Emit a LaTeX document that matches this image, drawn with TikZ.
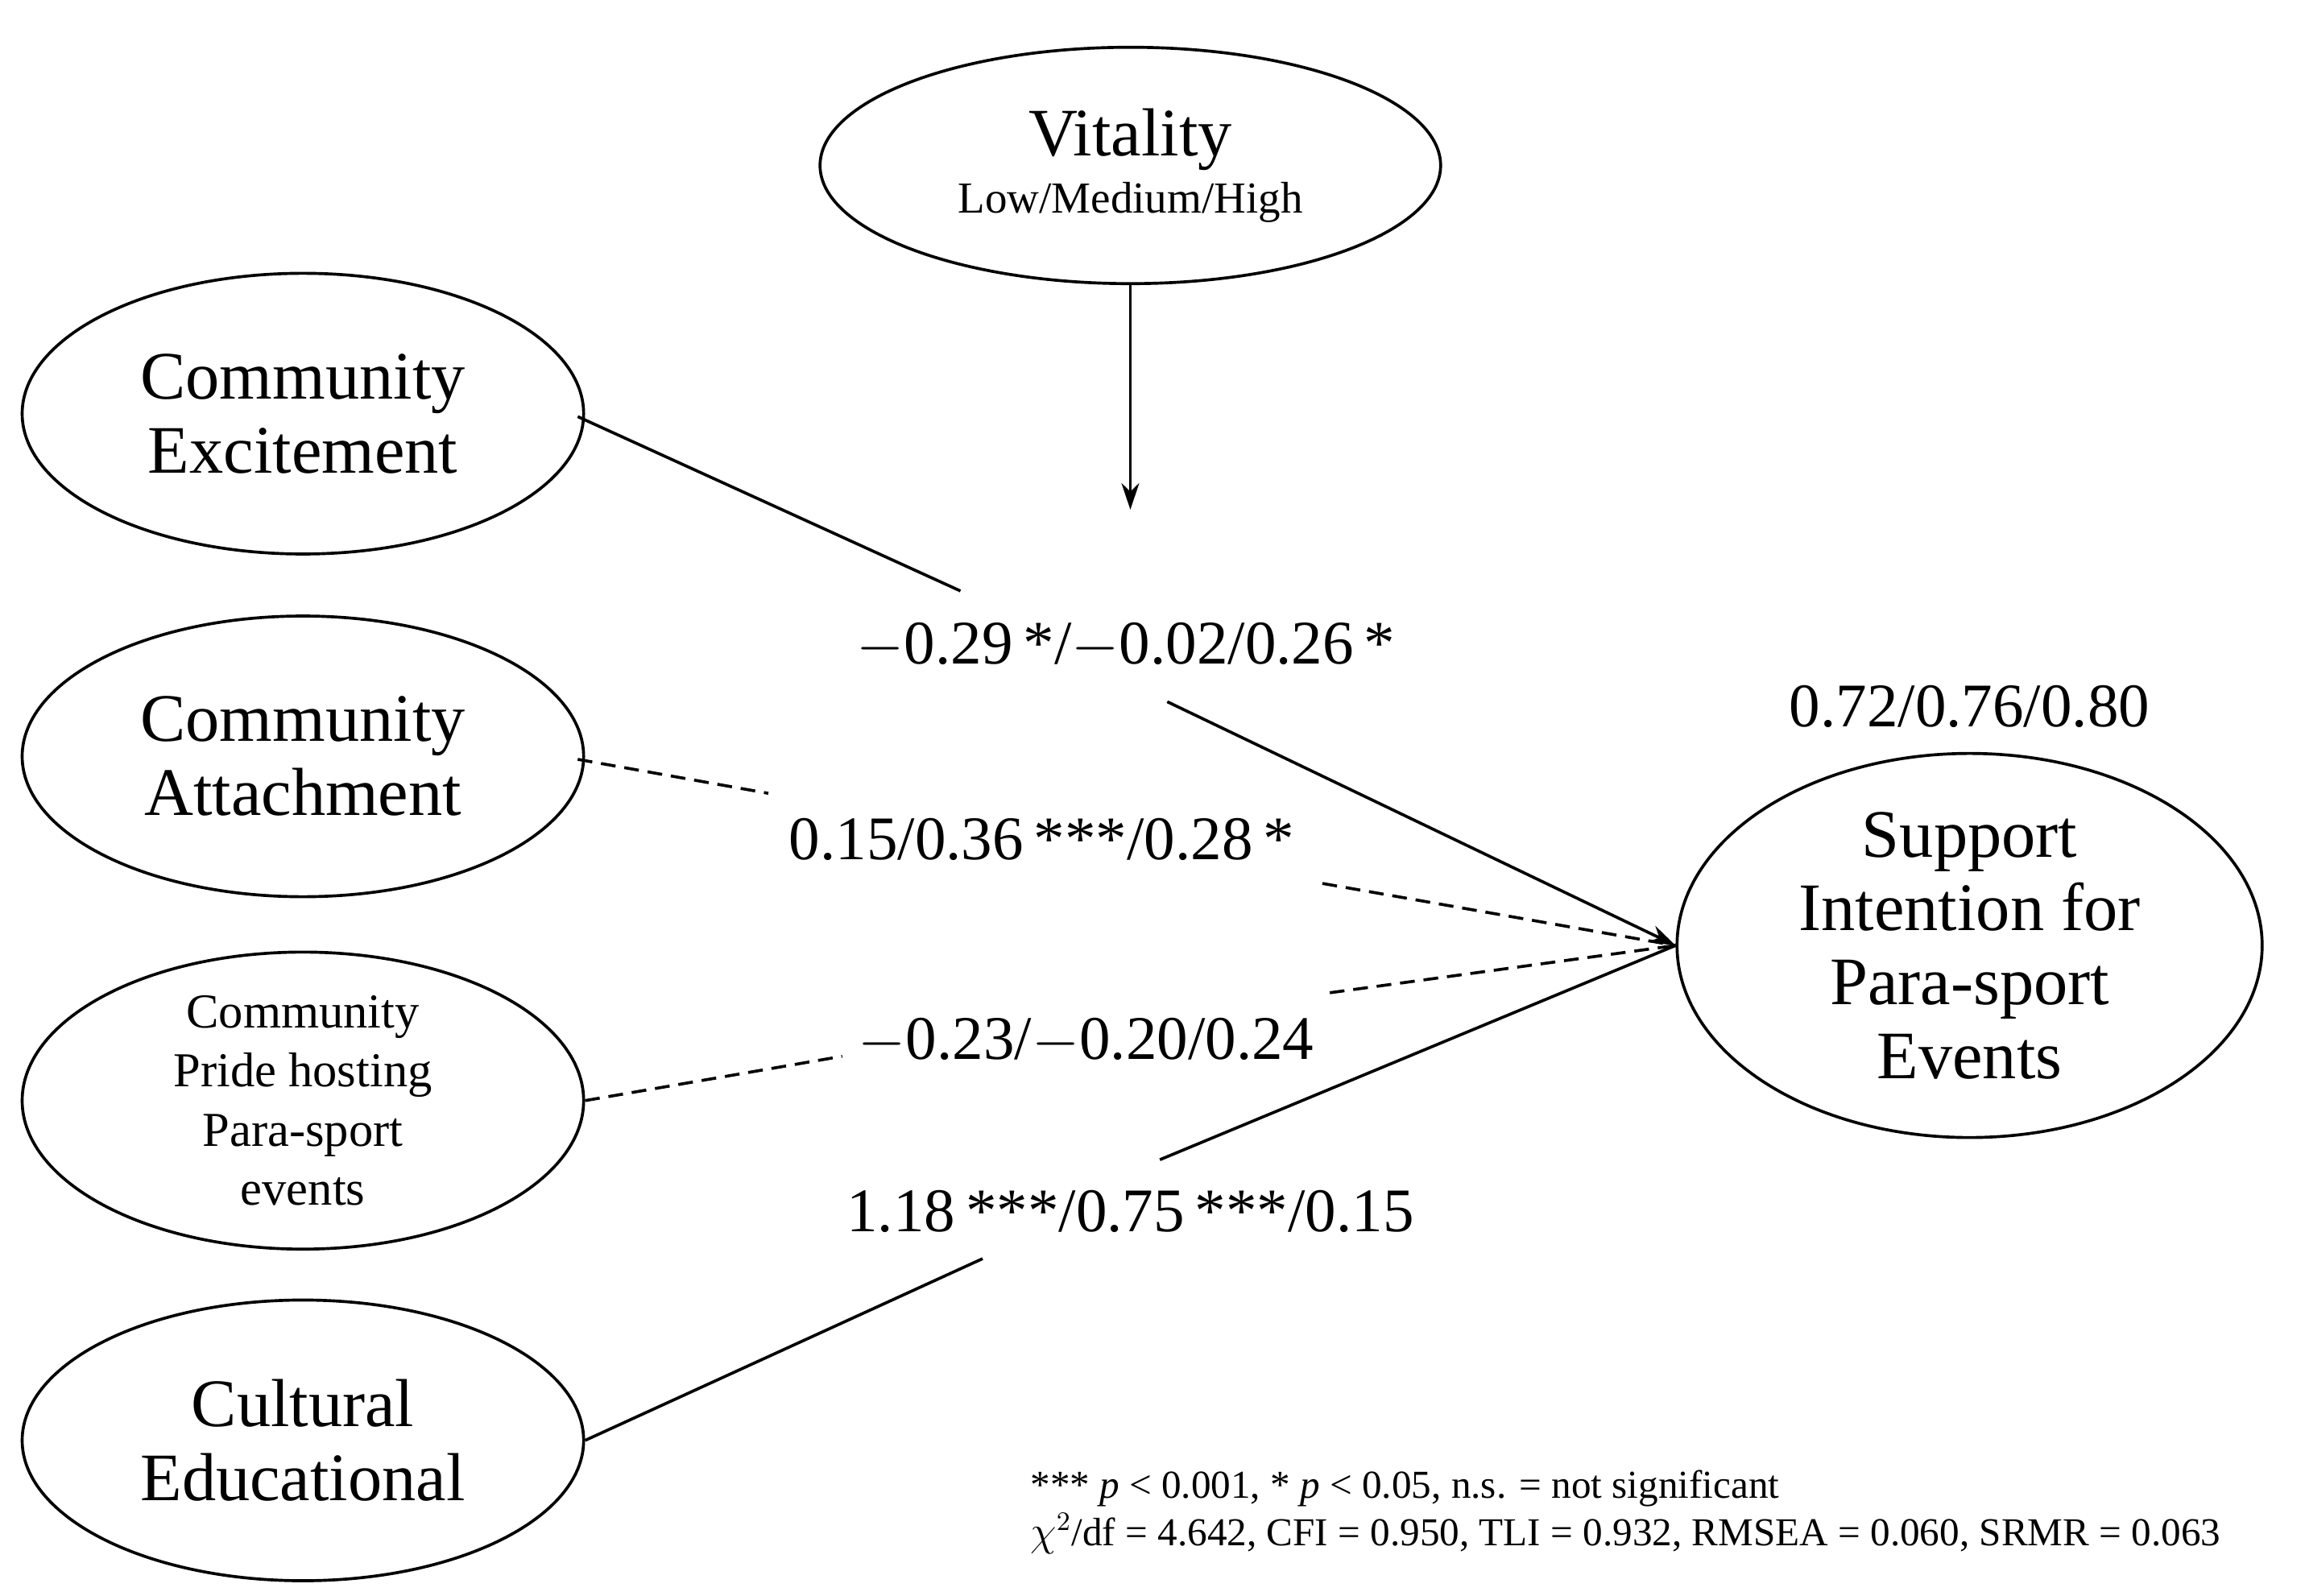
\documentclass[tikz,border=0pt]{standalone}
\usepackage{fontspec}
\setmainfont{Liberation Serif}
\usetikzlibrary{shapes.geometric,arrows.meta}
\begin{document}
\begin{tikzpicture}[x=0.5pt,y=-0.5pt,
  ell/.style={draw,ellipse,line width=1pt,inner sep=0pt,align=center},
  big/.style={font=\fontsize{23}{25}\selectfont},
  lab/.style={font=\fontsize{21}{24}\selectfont,inner sep=0pt},
  ln/.style={line width=1pt},
  ds/.style={line width=1pt,dash pattern=on 5pt off 3pt}]
\useasboundingbox (0,0) rectangle (1560,1080);
\node[ell,minimum width=210pt,minimum height=80pt] (vit) at (765,112)
  {\fontsize{23}{25}\selectfont Vitality\\[3pt]\fontsize{15}{17}\selectfont Low/Medium/High};
\node[ell,big,minimum width=190pt,minimum height=95pt] (ce) at (205,280) {Community\\Excitement};
\node[ell,big,minimum width=190pt,minimum height=95pt] (ca) at (205,512) {Community\\Attachment};
\node[ell,font=\fontsize{16.5}{20}\selectfont,minimum width=190pt,minimum height=100pt] (cp) at (205,745) {Community\\Pride hosting\\Para-sport\\events};
\node[ell,big,minimum width=198pt,minimum height=130pt] (si) at (1333,640) {Support\\Intention for\\Para-sport\\Events};
\node[ell,big,minimum width=190pt,minimum height=95pt] (cu) at (205,975) {Cultural\\Educational};
\coordinate (va) at (765,345);
\draw[ln,-{Stealth[length=9pt,width=6pt]}] (vit.south) -- (va);
\node[lab] (l1) at (762,437) {$-$0.29\,*/$-$0.02/0.26\,*};
\node[lab] (r2) at (1333,478) {0.72/0.76/0.80};
\node[lab] (l2) at (705,568) {0.15/0.36\,***/0.28\,*};
\node[lab] (l3) at (735,705) {$-$0.23/$-$0.20/0.24};
\node[lab] (l4) at (765,820) {1.18\,***/0.75\,***/0.15};
\coordinate (a1) at (650,400); \coordinate (b1) at (790,475);
\coordinate (a2) at (520,537); \coordinate (b2) at (895,598);
\coordinate (a3) at (570,715); \coordinate (b3) at (900,672);
\coordinate (a4) at (665,852); \coordinate (b4) at (785,785);
\draw[ln] (ce.east) ++(-5,2) -- (a1);
\draw[ln,-{Stealth[length=9pt,width=6pt]}] (b1) -- (si.west);
\draw[ds] (ca.east) ++(-5,2) -- (a2);
\draw[ds] (b2) -- (si.west);
\draw[ds] (cp.east) -- (a3);
\draw[ds] (b3) -- (si.west);
\draw[ln] (cu.east) -- (a4);
\draw[ln] (b4) -- (si.west);
\node[anchor=north west,align=left,inner sep=0pt,font=\fontsize{13.4}{16}\selectfont] (fn) at (697,995)
  {*** \textit{p} < 0.001, * \textit{p} < 0.05, n.s. = not significant\\
   $\chi^2$/df = 4.642, CFI = 0.950, TLI = 0.932, RMSEA = 0.060, SRMR = 0.063};
\end{tikzpicture}
\end{document}
